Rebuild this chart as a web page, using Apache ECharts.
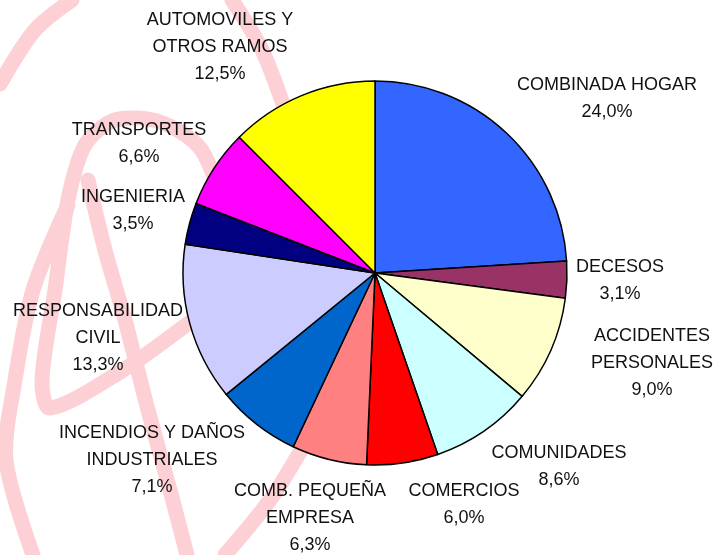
<!DOCTYPE html>
<html>
<head>
<meta charset="utf-8">
<script src="https://cdn.jsdelivr.net/npm/echarts@6/dist/echarts.min.js"></script>
<style>
html,body{margin:0;padding:0;background:#fff;}
#c{width:715px;height:555px;}
</style>
</head>
<body>
<div id="c"></div>
<script>
// ---- data ----
const categories = [
  'COMBINADA HOGAR',
  'DECESOS',
  'ACCIDENTES\nPERSONALES',
  'COMUNIDADES',
  'COMERCIOS',
  'COMB. PEQUEÑA\nEMPRESA',
  'INCENDIOS Y DAÑOS\nINDUSTRIALES',
  'RESPONSABILIDAD\nCIVIL',
  'INGENIERIA',
  'TRANSPORTES',
  'AUTOMOVILES Y\nOTROS RAMOS'
];
const values = [24.0, 3.1, 9.0, 8.6, 6.0, 6.3, 7.1, 13.3, 3.5, 6.6, 12.5];
const colors = ['#3366FF','#993366','#FFFFCC','#CCFFFF','#FF0000','#FF8080','#0066CC','#CCCCFF','#000080','#FF00FF','#FFFF00'];

// ---- layout (label block centres) ----
const labelPos = [
  [607, 99], [620, 281], [652, 363], [559, 467], [464, 505], [310, 518],
  [152, 460], [98, 338], [133, 211], [139, 144], [220, 47]
];

// ---- background watermark strokes ----
const wm = [
  [[0,84],[35,30],[72,0]],
  [[232,0],[262,50],[285,110]],
  [[222,200],[200,148],[160,122],[115,120],[85,145],[68,200],[55,290],[42,380],[50,408],[120,372],[190,322]],
  [[68,205],[33,290],[15,380],[6,460],[33,555]],
  [[88,180],[105,250],[125,320],[148,410],[170,490],[187,555]],
  [[300,452],[270,500],[225,555]]
];

const chart = echarts.init(document.getElementById('c'), null, {renderer:'canvas'});
const fmt = v => v.toFixed(1).replace('.', ',') + '%';

chart.setOption({
  animation: false,
  backgroundColor: '#fff',
  graphic: wm.map(pts => ({
    type: 'polyline',
    z: -10,
    silent: true,
    shape: { points: pts, smooth: 0.3 },
    style: { stroke: '#fcd0d4', lineWidth: 15, fill: null, lineCap: 'round', lineJoin: 'round' }
  })),
  series: [{
    type: 'pie',
    z: 5,
    center: [375, 273],
    radius: 192,
    startAngle: 90,
    clockwise: true,
    avoidLabelOverlap: false,
    silent: true,
    itemStyle: { borderColor: '#000', borderWidth: 1.5 },
    label: {
      show: true,
      position: 'outside',
      formatter: p => p.name + '\n' + fmt(p.value),
      fontFamily: 'Liberation Sans, Arial, sans-serif',
      fontSize: 18,
      lineHeight: 27,
      color: '#111',
      align: 'center'
    },
    labelLine: { show: false },
    labelLayout: params => {
      const p = labelPos[params.dataIndex];
      return { x: p[0], y: p[1], align: 'center', verticalAlign: 'middle' };
    },
    data: categories.map((c, i) => ({ name: c, value: values[i], itemStyle: { color: colors[i] } }))
  }]
});
</script>
</body>
</html>
